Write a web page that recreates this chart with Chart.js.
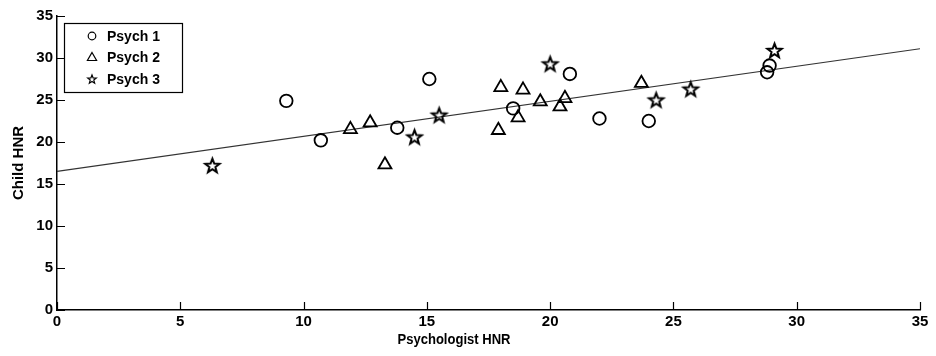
<!DOCTYPE html>
<html>
<head>
<meta charset="utf-8">
<script src="https://cdn.jsdelivr.net/npm/chart.js@4.4.0/dist/chart.umd.min.js"></script>
<style>
  html, body { margin: 0; padding: 0; background: #fff; }
  #wrap { width: 936px; height: 356px; }
</style>
</head>
<body>
<div id="wrap"><canvas id="hnrChart" width="936" height="356"></canvas></div>
<script>
// Psych 1 (circles)
const psych1X = [9.3, 10.7, 13.8, 15.1, 18.5, 20.8, 22.0, 24.0, 28.8, 28.9];
const psych1Y = [24.9, 20.2, 21.7, 27.5, 24.0, 28.1, 22.8, 22.5, 28.3, 29.1];
// Psych 2 (triangles)
const psych2X = [11.9, 12.7, 13.3, 18.0, 17.9, 18.9, 18.7, 19.6, 20.4, 20.6, 23.7];
const psych2Y = [21.5, 22.3, 17.3, 26.5, 21.4, 26.2, 22.9, 24.8, 24.2, 25.2, 27.0];
// Psych 3 (stars)
const psych3X = [6.3, 14.5, 15.5, 20.0, 24.3, 25.7, 29.1];
const psych3Y = [17.2, 20.6, 23.2, 29.3, 25.0, 26.3, 30.9];
// regression line end points
const fitX = [0, 35];
const fitY = [16.5, 31.1];

const xTicks = [0, 5, 10, 15, 20, 25, 30, 35];
const yTicks = [0, 5, 10, 15, 20, 25, 30, 35];
const xTitle = 'Psychologist HNR';

const FONT = '"Liberation Sans", Arial, sans-serif';

function toPoints(xs, ys) {
    return xs.map((x, i) => ({ x: x, y: ys[i] }));
}

// five pointed star outline, like the matlab 'p' marker
function makeStar(R, lw) {
    const size = Math.ceil(2 * R + 2 * lw + 2);
    const c = document.createElement('canvas');
    c.width = size; c.height = size;
    const g = c.getContext('2d');
    drawStar(g, size / 2, size / 2 + R * 0.08, R, lw);
    return c;
}

function drawStar(g, cx, cy, R, lw) {
    const r = R * 0.42;
    g.beginPath();
    for (let k = 0; k < 10; k++) {
        const a = -Math.PI / 2 + k * Math.PI / 5;
        const rad = k % 2 === 0 ? R : r;
        const px = cx + rad * Math.cos(a);
        const py = cy + rad * Math.sin(a);
        if (k === 0) g.moveTo(px, py); else g.lineTo(px, py);
    }
    g.closePath();
    g.lineWidth = lw;
    g.strokeStyle = '#000';
    g.lineJoin = 'miter';
    g.stroke();
}

const starImg = makeStar(7.5, 2);

// ticks pointing into the plot area
const innerTicks = {
    id: 'innerTicks',
    afterDatasetsDraw(chart) {
        const { ctx, chartArea, scales } = chart;
        const len = 8;
        ctx.save();
        ctx.strokeStyle = '#000';
        ctx.lineWidth = 1.2;
        ctx.beginPath();
        xTicks.forEach(v => {
            const px = Math.round(scales.x.getPixelForValue(v)) + 0.5;
            ctx.moveTo(px, chartArea.bottom);
            ctx.lineTo(px, chartArea.bottom - len);
        });
        yTicks.forEach(v => {
            const py = Math.round(scales.y.getPixelForValue(v)) + 0.5;
            ctx.moveTo(chartArea.left, py);
            ctx.lineTo(chartArea.left + len, py);
        });
        ctx.stroke();
        ctx.restore();
    }
};

// x axis title, condensed and a little left of centre as in the source figure
const xTitlePlugin = {
    id: 'xTitlePlugin',
    afterDraw(chart) {
        const ctx = chart.ctx;
        ctx.save();
        ctx.font = 'bold 15px ' + FONT;
        ctx.fillStyle = '#000';
        ctx.textBaseline = 'alphabetic';
        ctx.textAlign = 'center';
        const w = ctx.measureText(xTitle).width;
        const sx = 113 / w;
        ctx.translate(454, 344);
        ctx.scale(sx, 1);
        ctx.fillText(xTitle, 0, 0);
        ctx.restore();
    }
};

// boxed legend in the upper left corner
const legendBox = {
    id: 'legendBox',
    afterDraw(chart) {
        const ctx = chart.ctx;
        const x0 = 64, y0 = 23, w = 118, h = 69;
        ctx.save();
        ctx.fillStyle = '#fff';
        ctx.fillRect(x0, y0, w, h);
        ctx.strokeStyle = '#000';
        ctx.lineWidth = 1.2;
        ctx.strokeRect(x0 + 0.5, y0 + 0.5, w, h);
        const rows = [36, 57.5, 79];
        let row = 0;
        chart.data.datasets.forEach(ds => {
            if (!ds.label) return;
            const cy = y0 + rows[row] - 23;
            const cx = 92;
            ctx.strokeStyle = '#000';
            ctx.lineWidth = 1.2;
            if (ds.pointStyle === 'circle') {
                ctx.beginPath();
                ctx.arc(cx, cy, 3.8, 0, Math.PI * 2);
                ctx.stroke();
            } else if (ds.pointStyle === 'triangle') {
                ctx.beginPath();
                ctx.moveTo(cx, cy - 5);
                ctx.lineTo(cx + 4.6, cy + 3);
                ctx.lineTo(cx - 4.6, cy + 3);
                ctx.closePath();
                ctx.stroke();
            } else {
                drawStar(ctx, cx, cy + 0.5, 4.5, 1.2);
            }
            ctx.fillStyle = '#000';
            ctx.font = 'bold 14px ' + FONT;
            ctx.textBaseline = 'middle';
            ctx.textAlign = 'left';
            ctx.fillText(ds.label, 107, cy + 1);
            row++;
        });
        ctx.restore();
    }
};

const markerCommon = {
    showLine: false,
    borderColor: '#000',
    backgroundColor: 'rgba(0,0,0,0)',
    borderWidth: 1.8
};

new Chart(document.getElementById('hnrChart'), {
    type: 'scatter',
    data: {
        datasets: [{
            label: '',
            data: toPoints(fitX, fitY),
            showLine: true,
            borderColor: '#333',
            borderWidth: 1.2,
            pointRadius: 0,
            order: 10
        }, Object.assign({
            label: 'Psych 1',
            data: toPoints(psych1X, psych1Y),
            pointStyle: 'circle',
            pointRadius: 6.3
        }, markerCommon), Object.assign({
            label: 'Psych 2',
            data: toPoints(psych2X, psych2Y),
            pointStyle: 'triangle',
            pointRadius: 7.5
        }, markerCommon), Object.assign({
            label: 'Psych 3',
            data: toPoints(psych3X, psych3Y),
            pointStyle: starImg,
            pointRadius: 8
        }, markerCommon)]
    },
    options: {
        responsive: false,
        animation: false,
        events: [],
        layout: {
            padding: { left: 0, top: 16, right: 16, bottom: 0 }
        },
        plugins: {
            legend: { display: false },
            tooltip: { enabled: false }
        },
        scales: {
            x: {
                type: 'linear',
                min: 0,
                max: 35,
                afterBuildTicks: s => { s.ticks = xTicks.map(v => ({ value: v })); },
                afterFit: s => { s.height = 46; },
                grid: { display: true, drawOnChartArea: false, drawTicks: false },
                border: { display: true, color: '#000', width: 1.5 },
                ticks: {
                    color: '#000',
                    padding: 3,
                    font: { family: FONT, size: 15, weight: 'bold' }
                },
                title: { display: false }
            },
            y: {
                type: 'linear',
                min: 0,
                max: 35,
                afterBuildTicks: s => { s.ticks = yTicks.map(v => ({ value: v })); },
                afterFit: s => { s.width = 57; },
                grid: { display: true, drawOnChartArea: false, drawTicks: false },
                border: { display: true, color: '#000', width: 1.5 },
                ticks: {
                    color: '#000',
                    padding: 4,
                    font: { family: FONT, size: 15, weight: 'bold' }
                },
                title: {
                    display: true,
                    text: 'Child HNR',
                    color: '#000',
                    padding: { top: 9.5, bottom: 0 },
                    font: { family: FONT, size: 15, weight: 'bold' }
                }
            }
        }
    },
    plugins: [innerTicks, legendBox, xTitlePlugin]
});
</script>
</body>
</html>
